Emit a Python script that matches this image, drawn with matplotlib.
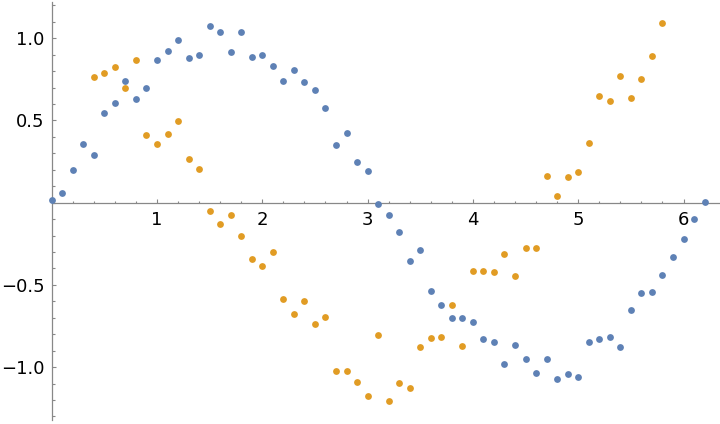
import numpy as np
import matplotlib.pyplot as plt
from matplotlib.ticker import MultipleLocator, FixedLocator

# blue series, x = 0.0 .. 6.2 step 0.1
blue_x = np.round(np.arange(0, 63) * 0.1, 1)
blue_y = [0.018, 0.061, 0.20, 0.359, 0.292, 0.547, 0.608, 0.742, 0.633, 0.70,
          0.870, 0.925, 0.991, 0.882, 0.900, 1.077, 1.040, 0.918, 1.040, 0.888,
          0.900, 0.833, 0.742, 0.809, 0.736, 0.687, 0.578, 0.353, 0.426, 0.249,
          0.195, -0.006, -0.073, -0.176, -0.353, -0.286, -0.535, -0.620, -0.700, -0.700,
          -0.724, -0.827, -0.845, -0.979, -0.864, -0.949, -1.034, -0.949, -1.071, -1.040,
          -1.058, -0.845, -0.827, -0.815, -0.876, -0.651, -0.547, -0.541, -0.438, -0.328,
          -0.219, -0.097, 0.006]

# orange series, x = 0.4 .. 5.8 step 0.1
orange_x = np.round(np.arange(4, 59) * 0.1, 1)
orange_y = [0.766, 0.791, 0.827, 0.700, 0.870, 0.414, 0.359, 0.420, 0.499, 0.268,
            0.207, -0.049, -0.128, -0.073, -0.201, -0.341, -0.383, -0.298, -0.584, -0.675,
            -0.596, -0.736, -0.693, -1.022, -1.022, -1.089, -1.174, -0.803, -1.204, -1.095,
            -1.125, -0.876, -0.821, -0.815, -0.620, -0.870, -0.414, -0.414, -0.420, -0.310,
            -0.444, -0.274, -0.274, 0.164, 0.043, 0.158, 0.189, 0.365, 0.651, 0.620,
            0.772, 0.639, 0.754, 0.894, 1.095]

x_ticks = [1, 2, 3, 4, 5, 6]
y_ticks = [-1.0, -0.5, 0.5, 1.0]
y_labels = ["\u22121.0", "\u22120.5", "0.5", "1.0"]

blue = "#5E81B5"
orange = "#E19C24"
axis_color = "#888888"

fig = plt.figure(figsize=(7.2, 4.24), dpi=100)
ax = fig.add_axes([51.7 / 720, 4 / 424, 1 - 51.7 / 720, 417.7 / 424])
ax.set_xlim(0, (720 - 51.7) / 105.3)
ax.set_ylim(-1.322, 1.219)

ax.scatter(blue_x, blue_y, s=24, color=blue, linewidths=0, zorder=3, clip_on=False)
ax.scatter(orange_x, orange_y, s=24, color=orange, linewidths=0, zorder=3, clip_on=False)

for side in ["top", "right"]:
    ax.spines[side].set_visible(False)
ax.spines["left"].set_position(("data", 0))
ax.spines["bottom"].set_position(("data", 0))
for side in ["left", "bottom"]:
    ax.spines[side].set_color(axis_color)
    ax.spines[side].set_linewidth(0.9)

ax.xaxis.set_major_locator(FixedLocator(x_ticks))
ax.xaxis.set_minor_locator(MultipleLocator(0.2))
ax.yaxis.set_major_locator(FixedLocator(y_ticks))
ax.set_yticklabels(y_labels)
ax.yaxis.set_minor_locator(MultipleLocator(0.1))

ax.tick_params(which="both", direction="in", color=axis_color, width=0.8)
ax.tick_params(which="major", length=3.0)
ax.tick_params(which="minor", length=1.8)
ax.tick_params(axis="x", which="major", labelsize=13, pad=6)
ax.tick_params(axis="y", which="major", labelsize=13, pad=5)
ax.patch.set_visible(False)

fig.savefig("out.png", dpi=100)
